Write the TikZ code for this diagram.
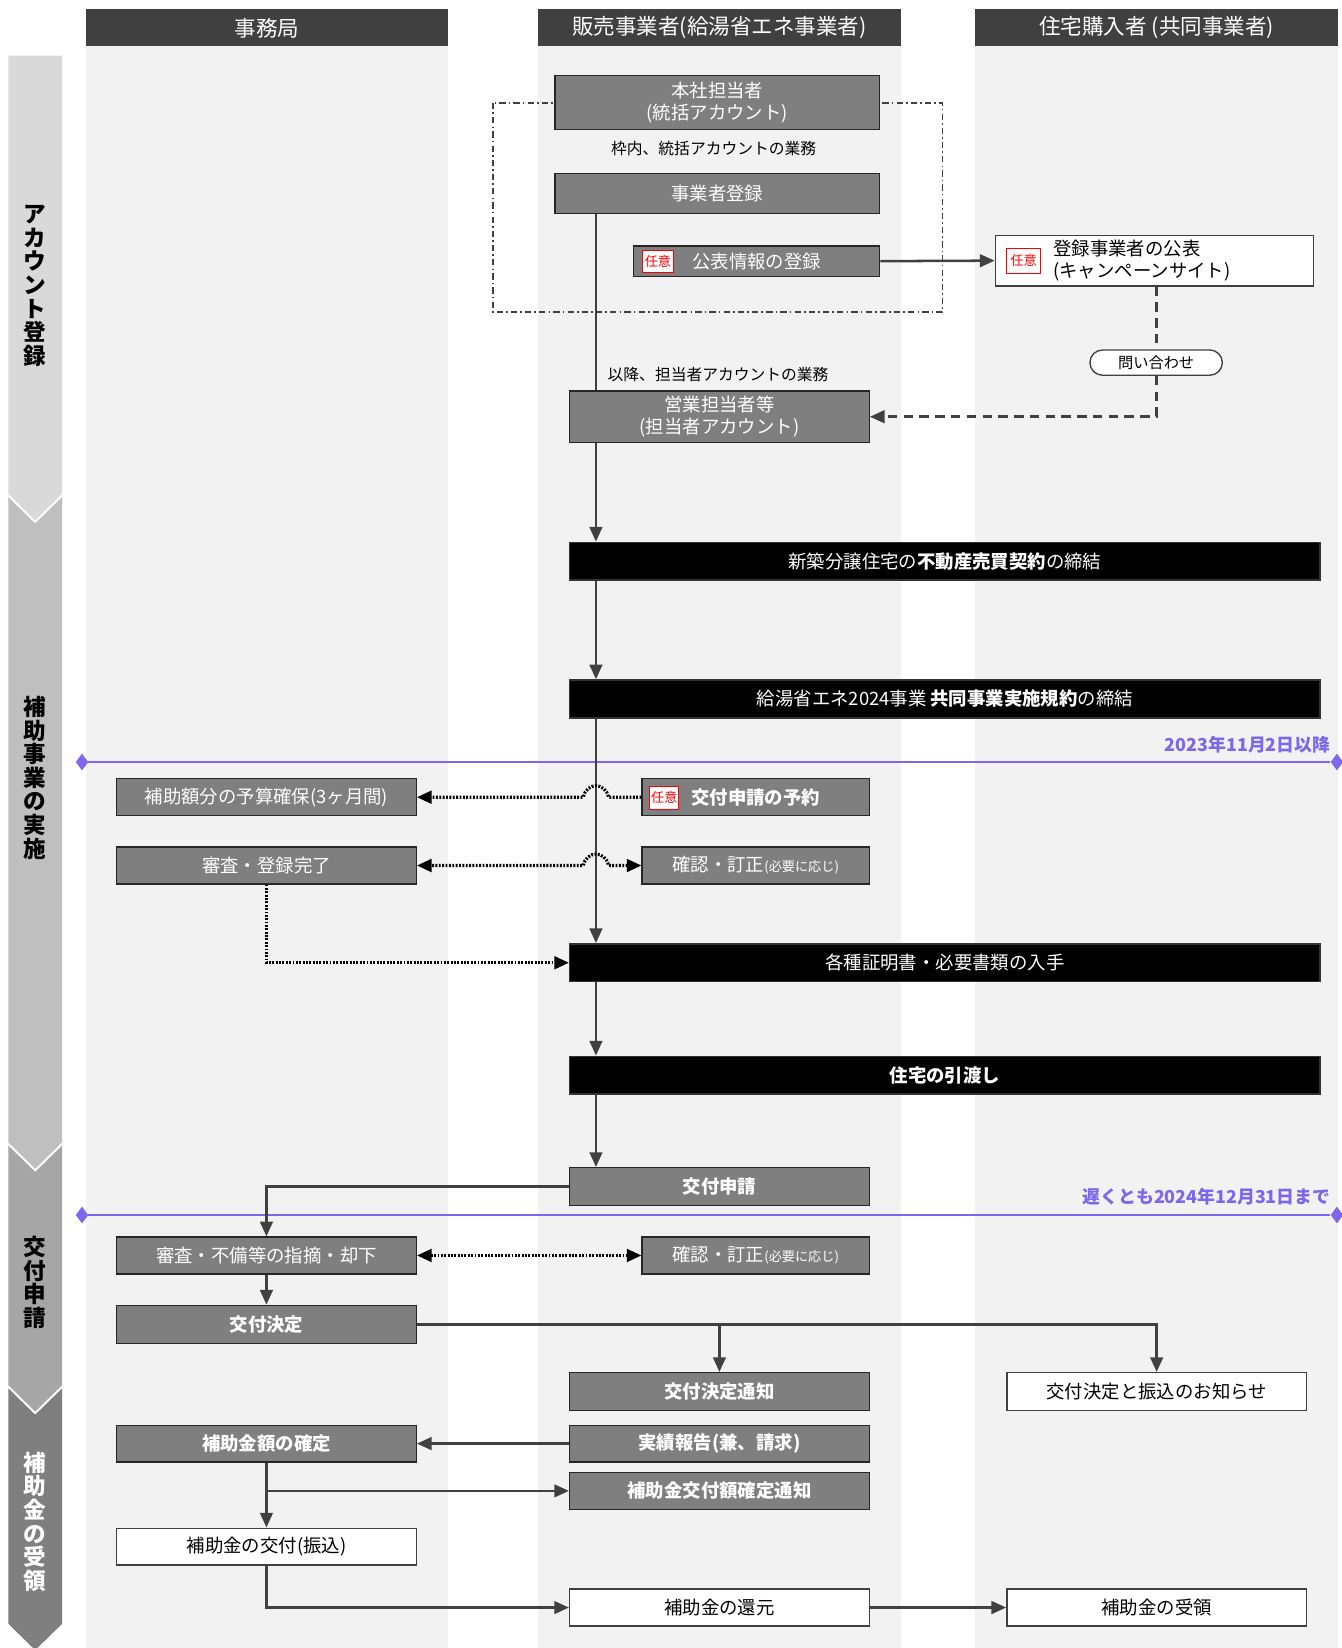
\documentclass[tikz,border=0pt]{standalone}
\usepackage{fontspec}
\setmainfont{Noto Sans CJK JP}
\usetikzlibrary{arrows.meta,shapes.geometric,calc}
\definecolor{hdr}{HTML}{404040}
\definecolor{lane}{HTML}{F2F2F2}
\definecolor{boxg}{HTML}{7F7F7F}
\definecolor{lnc}{HTML}{404040}
\definecolor{phA}{HTML}{D9D9D9}
\definecolor{phB}{HTML}{BFBFBF}
\definecolor{phC}{HTML}{A6A6A6}
\definecolor{phD}{HTML}{7F7F7F}
\definecolor{datec}{HTML}{7B68EE}
\definecolor{badgered}{HTML}{FF0000}
\begin{document}
\begin{tikzpicture}[x=1pt,y=-1pt,
  hdrbox/.style={fill=hdr, text=white, inner sep=0pt, font=\fontsize{20.5}{23}\selectfont},
  gbox/.style={draw=black!85, line width=1.3pt, fill=boxg, text=white, inner sep=0pt, align=center, font=\fontsize{17.5}{21}\selectfont},
  wbox/.style={draw=black!75, line width=1.3pt, fill=white, text=black, inner sep=0pt, align=center, font=\fontsize{17.5}{21}\selectfont},
  kbox/.style={draw=black!80, line width=1.3pt, fill=black, text=white, inner sep=0pt, align=center, font=\fontsize{17.5}{21}\selectfont},
  badge/.style={draw=badgered, line width=1pt, fill=white, text=badgered, inner sep=0pt, font=\fontsize{12.5}{14}\selectfont},
  smalltxt/.style={inner sep=0pt, text=black, font=\fontsize{15}{17}\selectfont},
  phtext/.style={inner sep=0pt, align=center, font=\bfseries\fontsize{21.5}{22.5}\selectfont},
  flow/.style={draw=lnc, line width=2.4pt},
  tip/.style={-{Triangle[length=14pt,width=12pt]}},
  arr/.style={flow, tip},
  dotl/.style={draw=black, line width=3pt, dash pattern=on 1.8pt off 1.4pt},
  dashl/.style={draw=lnc, line width=2.6pt, dash pattern=on 9pt off 6pt},
  dateline/.style={draw=datec, line width=2.6pt},
  datemark/.style={shape=diamond, fill=datec, inner sep=0pt, minimum width=12pt, minimum height=16pt},
  datelbl/.style={inner sep=0pt, text=datec, font=\bfseries\fontsize{17}{20}\selectfont},
]
\useasboundingbox (0,0) rectangle (1276,1568);
\fill[white] (0,0) rectangle (1276,1568);

% lanes
\fill[lane] (82,44) rectangle (426,1568);
\fill[lane] (512,44) rectangle (857,1568);
\fill[lane] (928,44) rectangle (1273,1568);
\node[hdrbox, minimum width=344pt, minimum height=35pt] (h1) at (254,26.5) {事務局};
\node[hdrbox, minimum width=345pt, minimum height=35pt] (h2) at (684.5,26.5) {販売事業者(給湯省エネ事業者)};
\node[hdrbox, minimum width=345pt, minimum height=35pt] (h3) at (1100.5,26.5) {住宅購入者 (共同事業者)};

% phase bar
\fill[phA] (8,53) -- (59,53) -- (59,470) -- (33.5,495) -- (8,470) -- cycle;
\fill[phB] (8,473) -- (33.5,498) -- (59,473) -- (59,1087) -- (33.5,1112) -- (8,1087) -- cycle;
\fill[phC] (8,1090) -- (33.5,1115) -- (59,1090) -- (59,1318) -- (33.5,1343) -- (8,1318) -- cycle;
\fill[phD] (8,1321) -- (33.5,1346) -- (59,1321) -- (59,1545) -- (33.5,1570) -- (8,1545) -- cycle;
\node[phtext] (p1) at (33.5,272) {ア\\カ\\ウ\\ン\\ト\\登\\録};
\node[phtext] (p2) at (33.5,740) {補\\助\\事\\業\\の\\実\\施};
\node[phtext] (p3) at (33.5,1220) {交\\付\\申\\請};
\node[phtext, text=white] (p4) at (33.5,1448) {\color{white}補\\\color{white}助\\\color{white}金\\\color{white}の\\\color{white}受\\\color{white}領};

% dash-dot frame
\draw[lnc, line width=1.3pt, dash pattern=on 6pt off 3pt on 1.5pt off 3pt] (469,98) rectangle (897,297);

\coordinate (tx) at (567,0);

% account registration
\node[gbox, minimum width=309pt, minimum height=51pt] (hq) at (682.5,97.5) {本社担当者\\(統括アカウント)};
\node[smalltxt] (t1) at (679,141) {枠内、統括アカウントの業務};
\node[gbox, minimum width=309pt, minimum height=38pt] (reg) at (682.5,184) {事業者登録};
\node[gbox, minimum width=234pt, minimum height=29pt] (pub) at (720,248.5) {公表情報の登録};
\node[badge, minimum width=30pt, minimum height=21pt] (b1) at (626,248.5) {任意};
\node[wbox, minimum width=303pt, minimum height=48pt] (site) at (1098.5,248) {};
\node[badge, minimum width=32pt, minimum height=24pt] (b2) at (974,248) {任意};
\node[inner sep=0pt, anchor=west, align=left, font=\fontsize{17.5}{21}\selectfont] (sitetxt) at (1002,248) {登録事業者の公表\\(キャンペーンサイト)};
\node[wbox, rounded corners=12pt, minimum width=126pt, minimum height=24pt, font=\fontsize{14.5}{16}\selectfont] (inq) at (1100,345) {問い合わせ};
\node[smalltxt, anchor=west] (t2) at (578,356) {以降、担当者アカウントの業務};
\node[gbox, minimum width=285pt, minimum height=49pt] (sales) at (684.5,396.5) {営業担当者等\\(担当者アカウント)};

% execution
\node[kbox, minimum width=714pt, minimum height=36pt] (contract) at (899,534) {新築分譲住宅の\textbf{不動産売買契約}の締結};
\node[kbox, minimum width=714pt, minimum height=36pt] (joint) at (899,665) {給湯省エネ2024事業 \textbf{共同事業実施規約}の締結};
\node[gbox, minimum width=285pt, minimum height=35pt] (budget) at (253.5,758.5) {補助額分の予算確保(3ヶ月間)};
\node[gbox, minimum width=216pt, minimum height=35pt] (reserve) at (719,758.5) {\textbf{交付申請の予約}};
\node[badge, minimum width=28pt, minimum height=22pt] (b3) at (632,759) {任意};
\node[gbox, minimum width=285pt, minimum height=35pt] (screen1) at (253.5,823.5) {審査・登録完了};
\node[gbox, minimum width=216pt, minimum height=35pt] (confirm1) at (719,823.5) {確認・訂正{\fontsize{12.5}{14}\selectfont(必要に応じ)}};
\node[kbox, minimum width=714pt, minimum height=36pt] (docs) at (899,916) {各種証明書・必要書類の入手};
\node[kbox, minimum width=714pt, minimum height=36pt] (handover) at (899,1023) {\textbf{住宅の引渡し}};

% application
\node[gbox, minimum width=285pt, minimum height=36pt] (apply) at (684.5,1129) {\textbf{交付申請}};
\node[gbox, minimum width=285pt, minimum height=35pt] (screen2) at (253.5,1194.5) {審査・不備等の指摘・却下};
\node[gbox, minimum width=216pt, minimum height=35pt] (confirm2) at (719,1194.5) {確認・訂正{\fontsize{12.5}{14}\selectfont(必要に応じ)}};
\node[gbox, minimum width=285pt, minimum height=36pt] (decide) at (253.5,1260) {\textbf{交付決定}};
\node[gbox, minimum width=285pt, minimum height=36pt] (notice) at (684.5,1324) {\textbf{交付決定通知}};
\node[wbox, minimum width=285pt, minimum height=36pt] (inform) at (1100.5,1324) {交付決定と振込のお知らせ};

% receipt
\node[gbox, minimum width=285pt, minimum height=35pt] (amount) at (253.5,1373.5) {\textbf{補助金額の確定}};
\node[gbox, minimum width=285pt, minimum height=35pt] (report) at (684.5,1373.5) {\textbf{実績報告(兼、請求)}};
\node[gbox, minimum width=285pt, minimum height=35pt] (amtnotice) at (684.5,1418.5) {\textbf{補助金交付額確定通知}};
\node[wbox, minimum width=285pt, minimum height=35pt] (payment) at (253.5,1471.5) {補助金の交付(振込)};
\node[wbox, minimum width=285pt, minimum height=35pt] (refund) at (684.5,1529.5) {補助金の還元};
\node[wbox, minimum width=285pt, minimum height=35pt] (receive) at (1100.5,1529.5) {補助金の受領};

% date lines
\node[datemark] (d1l) at (78,725) {};
\node[datemark] (d1r) at (1272,725) {};
\draw[dateline] (d1l) -- (d1r);
\node[datelbl, anchor=east] (dl1) at (1266,709) {2023年11月2日以降};
\node[datemark] (d2l) at (78,1156) {};
\node[datemark] (d2r) at (1272,1156) {};
\draw[dateline] (d2l) -- (d2r);
\node[datelbl, anchor=east] (dl2) at (1266,1139) {遅くとも2024年12月31日まで};

% connectors
\draw[flow] (reg.south -| tx) -- (sales.north -| tx);
\draw[arr] (pub.east) -- (site.west);
\draw[dashl] (site.south -| inq.north) -- (inq.north);
\draw[dashl, tip] (inq.south) |- (sales.east);
\draw[arr] (sales.south -| tx) -- (contract.north -| tx);
\draw[arr] (contract.south -| tx) -- (joint.north -| tx);
\draw[arr] (joint.south -| tx) -- (docs.north -| tx);
\draw[dotl, tip] (reserve.west) -- (579,758.5) .. controls (576,744) and (558,744) .. (555,758.5) -- (budget.east);
\draw[dotl, {Triangle[length=14pt,width=12pt]}-{Triangle[length=14pt,width=12pt]}] (confirm1.west) -- (579,823.5) .. controls (576,809) and (558,809) .. (555,823.5) -- (screen1.east);
\draw[dotl, tip] (screen1.south) |- (docs.west);
\draw[arr] (docs.south -| tx) -- (handover.north -| tx);
\draw[arr] (handover.south -| tx) -- (apply.north -| tx);
\draw[arr] (apply.west) -| (screen2.north);
\draw[dotl, {Triangle[length=14pt,width=12pt]}-{Triangle[length=14pt,width=12pt]}] (screen2.east) -- (confirm2.west);
\draw[arr] (screen2.south) -- (decide.north);
\draw[arr] (decide.east) -| (inform.north);
\draw[arr] (notice.north |- decide.east) -- (notice.north);
\draw[arr] (report.west) -- (amount.east);
\draw[arr] (amount.south) -- (payment.north);
\draw[arr] (amount.south |- amtnotice.west) -- (amtnotice.west);
\draw[arr] (payment.south) |- (refund.west);
\draw[arr] (refund.east) -- (receive.west);
\end{tikzpicture}
\end{document}
